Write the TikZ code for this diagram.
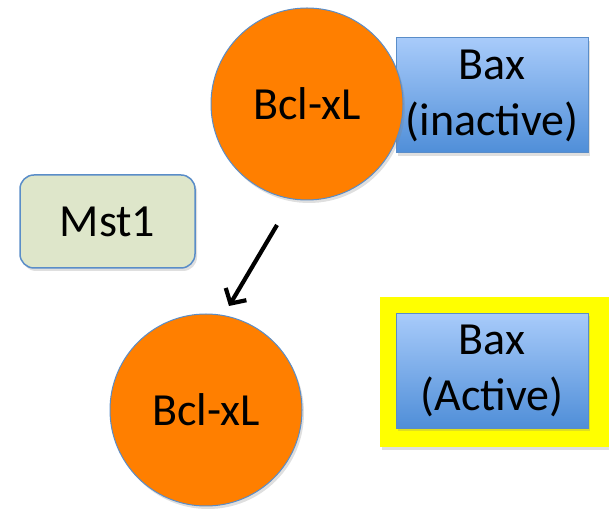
\documentclass[tikz,border=0pt]{standalone}
\usepackage{fontspec}
\setmainfont{Carlito}
\usepackage{tikz}
\usetikzlibrary{arrows.meta,positioning,shadows}
\usepackage{xcolor}
\definecolor{BclOrange}{HTML}{FF7F00}
\definecolor{EdgeBlue}{HTML}{5A8DC8}
\definecolor{BaxTop}{HTML}{A8CBFA}
\definecolor{BaxBot}{HTML}{4F8ED8}
\definecolor{MstGreen}{HTML}{DEE6CA}
\definecolor{HiYellow}{HTML}{FFFF00}

\begin{document}
\begin{tikzpicture}[
  x=1pt, y=1pt,
  shade/.style={drop shadow={opacity=0.25, shadow xshift=2pt, shadow yshift=-3pt}},
  bcl/.style={circle, minimum size=192pt, inner sep=0pt, fill=BclOrange,
              draw=EdgeBlue, line width=1pt, shade},
  bax/.style={rectangle, minimum width=192pt, minimum height=115pt, align=center,
              top color=BaxTop, bottom color=BaxBot, draw=EdgeBlue, line width=1pt, shade},
  kinase/.style={rounded corners=14pt, minimum width=175pt, minimum height=93pt,
                 fill=MstGreen, draw=EdgeBlue, line width=1.5pt, shade},
  every node/.style={font=\fontsize{46}{56}\selectfont}
]
  \useasboundingbox (0,0) rectangle (609,510);

  % highlight behind the active Bax
  \fill[HiYellow, shade] (380,213) rectangle (609,63);

  \node[bax]    (baxin)  at (492,414.5) {Bax\\(inactive)};
  \node[bcl]    (bcltop) at (307,406)   {Bcl-xL};
  \node[kinase] (mst)    at (107.5,288.5) {Mst1};
  \node[bcl]    (bclbot) at (206,100)   {Bcl-xL};
  \node[bax]    (baxact) at (492,139)   {Bax\\(Active)};

  \coordinate (tail) at (277,285);
  \coordinate (tip)  at (229,204);
  \draw[-{Straight Barb[length=11pt,width=24pt]}, line width=4.2pt] (tail) -- (tip);
\end{tikzpicture}
\end{document}
